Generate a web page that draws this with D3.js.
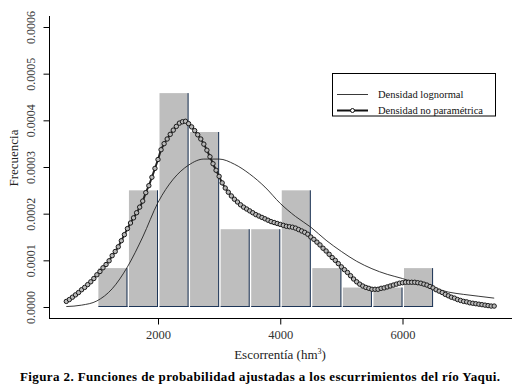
<!DOCTYPE html>
<html>
<head>
<meta charset="utf-8">
<script src="https://cdn.jsdelivr.net/npm/d3@7"></script>
<style>
	body { margin: 0; background: #fff; }
	svg { display: block; font-family: "Liberation Serif", "Times New Roman", serif; }
</style>
</head>
<body>
<svg id="chart" width="529" height="392"></svg>
<script>
'use strict';

// histogram: bin starts (hm3), bin width, density per bin
var binStarts = [1000, 1500, 2000, 2500, 3000, 3500, 4000, 4500, 5000, 5500, 6000];
var binWidth = 500;
var binDensity = [0.0000833, 0.00025, 0.0004583, 0.000375, 0.0001667, 0.0001667,
	0.00025, 0.0000833, 0.0000417, 0.0000417, 0.0000833];

// lognormal density (units of 1e-4)
var lnX = [500, 750, 1000, 1250, 1500, 1750, 2000, 2250, 2500, 2750, 3000, 3250, 3500, 3750,
	4000, 4250, 4500, 4750, 5000, 5250, 5500, 5750, 6000, 6250, 6500, 6750, 7000, 7250, 7500];
var lnY = [0.01, 0.04, 0.13, 0.39, 0.86, 1.50, 2.24, 2.74, 3.04, 3.17, 3.17, 3.06, 2.85, 2.57,
	2.22, 1.94, 1.71, 1.43, 1.19, 0.98, 0.82, 0.70, 0.61, 0.50, 0.41, 0.32, 0.27, 0.23, 0.19];

// non-parametric (kernel) density, every 50 hm3 from 500 to 7500 (units of 1e-4)
var kdeStart = 500, kdeStep = 50;
var kdeY = [
	0.12, 0.16, 0.21, 0.26, 0.31, 0.37, 0.42, 0.48, 0.54, 0.61,
	0.69, 0.76, 0.84, 0.91, 0.99, 1.10, 1.19, 1.29, 1.42, 1.55,
	1.68, 1.80, 1.91, 2.02, 2.14, 2.27, 2.45, 2.60, 2.78, 2.97,
	3.16, 3.37, 3.50, 3.60, 3.70, 3.79, 3.87, 3.94, 3.97, 3.98,
	3.93, 3.86, 3.78, 3.69, 3.60, 3.49, 3.36, 3.22, 3.07, 2.93,
	2.80, 2.66, 2.55, 2.46, 2.38, 2.31, 2.25, 2.19, 2.14, 2.10,
	2.06, 2.02, 1.98, 1.95, 1.92, 1.89, 1.86, 1.83, 1.81, 1.79,
	1.77, 1.75, 1.73, 1.72, 1.71, 1.69, 1.66, 1.63, 1.60, 1.56,
	1.50, 1.45, 1.39, 1.33, 1.26, 1.20, 1.13, 1.06, 1.00, 0.93,
	0.86, 0.80, 0.74, 0.67, 0.60, 0.54, 0.49, 0.45, 0.42, 0.40,
	0.38, 0.38, 0.38, 0.40, 0.41, 0.43, 0.45, 0.47, 0.49, 0.51,
	0.52, 0.53, 0.53, 0.53, 0.53, 0.52, 0.51, 0.49, 0.47, 0.44,
	0.41, 0.37, 0.34, 0.31, 0.27, 0.24, 0.21, 0.19, 0.16, 0.14,
	0.12, 0.11, 0.09, 0.08, 0.07, 0.06, 0.05, 0.04, 0.03, 0.02,
	0.02
];

var xTicks = [2000, 4000, 6000];
var yTicks = [0, 0.0001, 0.0002, 0.0003, 0.0004, 0.0005, 0.0006];
var legendLabels = ["Densidad lognormal", "Densidad no paramétrica"];
var xTitle = "Escorrentía (hm";
var yTitle = "Frecuencia";
var caption = "Figura 2. Funciones de probabilidad ajustadas a los escurrimientos del río Yaqui.";

var svg = d3.select("#chart");

var xScale = d3.scaleLinear().domain([2000, 6000]).range([158, 402.5]);
var yScale = d3.scaleLinear().domain([0, 0.0006]).range([307, 27]);

var lnData = lnX.map(function(x, i) { return {x: x, y: lnY[i] * 1e-4}; });
var kdeData = kdeY.map(function(v, i) { return {x: kdeStart + i * kdeStep, y: v * 1e-4}; });

var barColor = "#bebebe",
	edgeColor = "#1d3557";

// bars
var bars = svg.append("g");
binStarts.forEach(function(b, i) {
	var x0 = xScale(b), x1 = xScale(b + binWidth), yt = yScale(binDensity[i]), y0 = yScale(0);
	bars.append("rect")
		.attr("x", x0 + 1.5).attr("y", yt)
		.attr("width", x1 - x0 - 1.5).attr("height", y0 - yt)
		.attr("fill", barColor);
	bars.append("line")
		.attr("x1", x1 - 0.5).attr("x2", x1 - 0.5)
		.attr("y1", yt).attr("y2", y0)
		.attr("stroke", edgeColor).attr("stroke-width", 1);
	bars.append("line")
		.attr("x1", x0 + 1.5).attr("x2", x1)
		.attr("y1", y0 - 0.5).attr("y2", y0 - 0.5)
		.attr("stroke", edgeColor).attr("stroke-width", 1);
});

// lognormal line
var line = d3.line()
	.curve(d3.curveMonotoneX)
	.x(function(d) { return xScale(d.x); })
	.y(function(d) { return yScale(d.y); });

svg.append("path")
	.datum(lnData)
	.attr("d", line)
	.attr("fill", "none")
	.attr("stroke", "#222")
	.attr("stroke-width", 0.9);

// kernel density: thick line with open circles
svg.append("path")
	.datum(kdeData)
	.attr("d", line)
	.attr("fill", "none")
	.attr("stroke", "#222")
	.attr("stroke-width", 2);

svg.append("g")
	.selectAll("circle")
	.data(kdeData)
	.enter()
	.append("circle")
	.attr("cx", function(d) { return xScale(d.x); })
	.attr("cy", function(d) { return yScale(d.y); })
	.attr("r", 2.2)
	.attr("fill", "#b8b8b8")
	.attr("stroke", "#1a1a1a")
	.attr("stroke-width", 1);

// axes (L-shaped box)
svg.append("line")
	.attr("x1", 49.5).attr("x2", 49.5).attr("y1", 16).attr("y2", 318.5)
	.attr("stroke", "#000").attr("stroke-width", 1);
svg.append("line")
	.attr("x1", 49).attr("x2", 512).attr("y1", 318.5).attr("y2", 318.5)
	.attr("stroke", "#000").attr("stroke-width", 1);

var yAxis = svg.append("g")
	.attr("transform", "translate(49.5,0)")
	.call(d3.axisLeft(yScale).tickValues(yTicks).tickSize(6).tickFormat(d3.format(".4f")));
yAxis.select(".domain").remove();
yAxis.selectAll("line").attr("stroke", "#000");
yAxis.selectAll("text")
	.attr("x", 0).attr("y", 0).attr("dy", "0")
	.attr("transform", "translate(-15,0) rotate(-90)")
	.attr("text-anchor", "middle")
	.attr("font-family", "Liberation Serif, serif")
	.attr("font-size", 12)
	.attr("fill", "#333");

var xAxis = svg.append("g")
	.attr("transform", "translate(0,318.5)")
	.call(d3.axisBottom(xScale).tickValues(xTicks).tickSize(6).tickFormat(d3.format("d")));
xAxis.select(".domain").remove();
xAxis.selectAll("line").attr("stroke", "#000");
xAxis.selectAll("text")
	.attr("y", 12).attr("dy", "0.71em")
	.attr("font-family", "Liberation Serif, serif")
	.attr("font-size", 12.5)
	.attr("fill", "#333");

// titles
svg.append("text")
	.attr("transform", "translate(18,158) rotate(-90)")
	.attr("text-anchor", "middle")
	.attr("font-size", 13)
	.attr("fill", "#222")
	.text(yTitle);

var xt = svg.append("text")
	.attr("x", 280).attr("y", 359)
	.attr("text-anchor", "middle")
	.attr("font-size", 13)
	.attr("fill", "#222")
	.text(xTitle);
xt.append("tspan").attr("dy", -5).attr("font-size", 8).text("3");
xt.append("tspan").attr("dy", 5).text(")");

svg.append("text")
	.attr("x", 20).attr("y", 381)
	.attr("font-size", 13)
	.attr("font-weight", "bold")
	.attr("fill", "#000")
	.attr("textLength", 480)
	.attr("lengthAdjust", "spacing")
	.text(caption);

// legend
var legend = svg.append("g");
legend.append("rect")
	.attr("x", 332.5).attr("y", 73.5).attr("width", 163).attr("height", 42.5)
	.attr("fill", "#fff").attr("stroke", "#000").attr("stroke-width", 1);
legend.append("line")
	.attr("x1", 337).attr("x2", 368).attr("y1", 94.5).attr("y2", 94.5)
	.attr("stroke", "#222").attr("stroke-width", 0.9);
legend.append("line")
	.attr("x1", 337).attr("x2", 368).attr("y1", 110.5).attr("y2", 110.5)
	.attr("stroke", "#111").attr("stroke-width", 2);
legend.append("circle")
	.attr("cx", 352.5).attr("cy", 110.5).attr("r", 2)
	.attr("fill", "#fff").attr("stroke", "#111").attr("stroke-width", 1);
legend.selectAll("text.lg")
	.data(legendLabels)
	.enter()
	.append("text")
	.attr("class", "lg")
	.attr("x", 378)
	.attr("y", function(d, i) { return 94.5 + i * 16; })
	.attr("dy", "0.32em")
	.attr("font-size", 10.5)
	.attr("fill", "#111")
	.text(function(d) { return d; });
</script>
</body>
</html>
